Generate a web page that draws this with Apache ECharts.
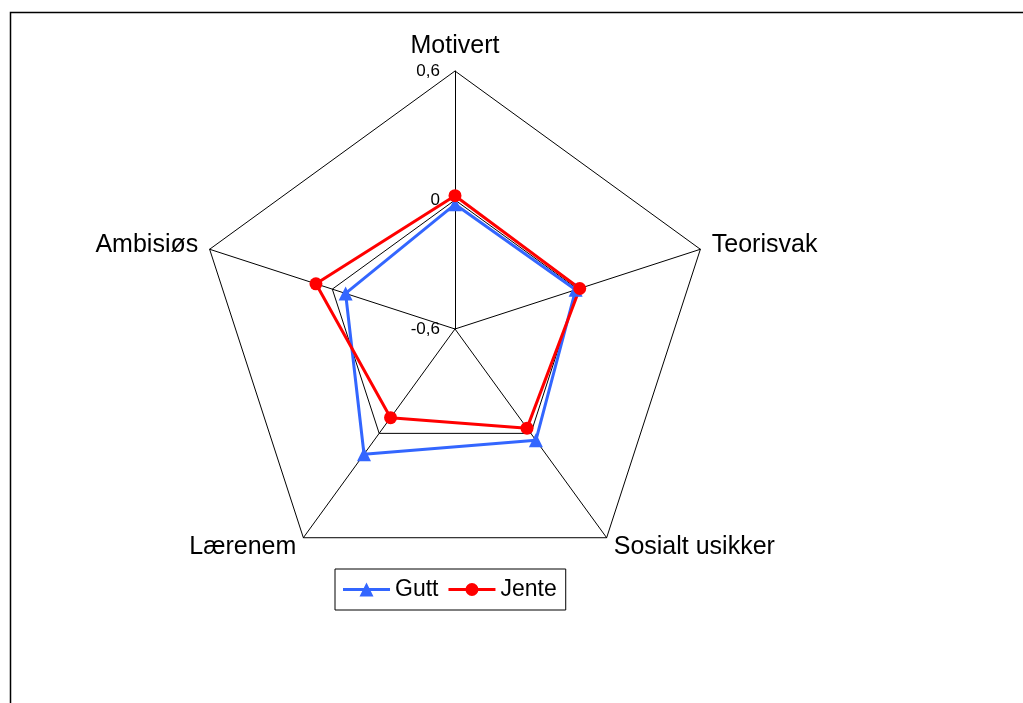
<!DOCTYPE html>
<html>
<head>
<meta charset="utf-8">
<script src="https://cdn.jsdelivr.net/npm/echarts@6/dist/echarts.min.js"></script>
<style>
  html, body { margin: 0; padding: 0; background: #fff; }
  #chart { width: 1023px; height: 703px; }
</style>
</head>
<body>
<div id="chart"></div>
<script>
// radar goes counter-clockwise in echarts, so the order here is reversed after the first
var categories = ['Motivert', 'Ambisiøs', 'Lærenem', 'Sosialt usikker', 'Teorisvak']
var gutt = [-0.02, -0.065, 0.12, 0.04, -0.01]
var jente = [0.02, 0.08, -0.09, -0.03, 0.01]
var axisMin = -0.6
var axisMax = 0.6

// legend icons: line with marker in the middle
var iconGutt = 'path://M0,5.6L47,5.6L47,8.4L0,8.4Z M16.5,14L23.5,0L30.5,14Z'
var iconJente = 'path://M0,5.6L47,5.6L47,8.4L0,8.4Z M17,7A6.5,6.5 0 1,1 30,7A6.5,6.5 0 1,1 17,7Z'

var chart = echarts.init(document.getElementById('chart'))

var indicator = categories.map(function (name, i) {
  var item = { name: name, min: axisMin, max: axisMax }
  if (i > 0) item.axisLabel = { show: false }
  return item
})

chart.setOption({
  animation: false,
  textStyle: { fontFamily: 'Liberation Sans, Arial, sans-serif' },
  graphic: [{
    type: 'rect',
    shape: { x: 10.5, y: 12.5, width: 1100, height: 800 },
    style: { fill: 'none', stroke: '#000', lineWidth: 1.5 },
    silent: true
  }],
  legend: {
    left: 335,
    top: 569,
    padding: [9, 9, 9, 8],
    borderColor: '#000',
    borderWidth: 1,
    itemWidth: 47,
    itemHeight: 14,
    itemGap: 10,
    textStyle: { fontSize: 23, color: '#000' },
    data: [
      { name: 'Gutt', icon: iconGutt },
      { name: 'Jente', icon: iconJente }
    ]
  },
  radar: {
    center: [455, 329],
    radius: 258,
    startAngle: 90,
    splitNumber: 2,
    shape: 'polygon',
    indicator: indicator,
    axisName: { color: '#000', fontSize: 25 },
    nameGap: 12,
    splitArea: { show: false },
    splitLine: { lineStyle: { color: '#000', width: 1 } },
    axisLine: { lineStyle: { color: '#000', width: 1 } },
    axisLabel: {
      show: true,
      color: '#000',
      fontSize: 17,
      margin: 15,
      formatter: function (v) { return String(Math.round(v * 10) / 10).replace('.', ',') }
    }
  },
  series: [{
    type: 'radar',
    data: [
      {
        name: 'Gutt',
        value: gutt,
        symbol: 'triangle',
        symbolSize: 14,
        lineStyle: { color: '#3366ff', width: 3 },
        itemStyle: { color: '#3366ff' }
      },
      {
        name: 'Jente',
        value: jente,
        symbol: 'circle',
        symbolSize: 13,
        lineStyle: { color: '#ff0000', width: 3 },
        itemStyle: { color: '#ff0000' }
      }
    ]
  }]
})
</script>
</body>
</html>
